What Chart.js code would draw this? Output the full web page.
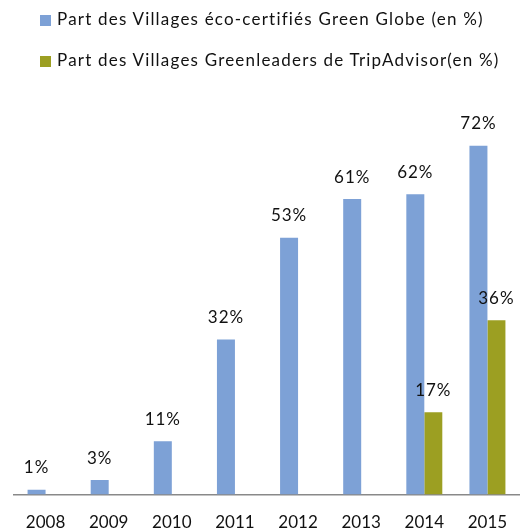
<!DOCTYPE html>
<html>
<head>
<meta charset="utf-8">
<script src="https://cdn.jsdelivr.net/npm/chart.js@4"></script>
<style>
  body { margin: 0; background: #fff; }
  #wrap { position: relative; width: 523px; height: 528px; }
  .leg { position: absolute; left: 40px; font: 17px Lato, sans-serif; letter-spacing: 1.2px; color: #111; white-space: nowrap; line-height: 20px; }
  .leg span { display: inline-block; width: 11px; height: 11px; margin-right: 6px; vertical-align: -1px; }
</style>
</head>
<body>
<div id="wrap">
  <canvas id="chart" width="523" height="528"></canvas>
  <div class="leg" style="top:9px"><span style="background:#7da1d6"></span>Part des Villages éco-certifiés Green Globe (en %)</div>
  <div class="leg" style="top:50px"><span style="background:#9c9f22"></span>Part des Villages Greenleaders de TripAdvisor(en %)</div>
</div>
<script>
const years = ["2008", "2009", "2010", "2011", "2012", "2013", "2014", "2015"];
const greenGlobe = [1, 3, 11, 32, 53, 61, 62, 72];
const tripAdvisor = [null, null, null, null, null, null, 17, 36];

const barLabels = {
    id: "barLabels",
    afterDatasetsDraw(chart) {
        const ctx = chart.ctx;
        ctx.save();
        ctx.font = "17px Lato, sans-serif";
        ctx.letterSpacing = "1px";
        ctx.fillStyle = "#111";
        ctx.textAlign = "center";
        ctx.textBaseline = "middle";
        chart.data.datasets.forEach((ds, i) => {
            chart.getDatasetMeta(i).data.forEach((bar, j) => {
                if (ds.data[j] == null) return;
                ctx.fillText(ds.data[j] + "%", bar.x, bar.y - 22);
            });
        });
        ctx.restore();
    }
};

new Chart(document.getElementById("chart"), {
    type: "bar",
    data: {
        labels: years,
        datasets: [
            { label: "Part des Villages éco-certifiés Green Globe (en %)", data: greenGlobe, backgroundColor: "#7da1d6" },
            { label: "Part des Villages Greenleaders de TripAdvisor(en %)", data: tripAdvisor, backgroundColor: "#9c9f22" }
        ]
    },
    options: {
        responsive: false,
        animation: false,
        layout: { padding: { left: 14, right: 4, top: 107, bottom: -15 } },
        datasets: { bar: { barPercentage: 1, categoryPercentage: 0.57 } },
        plugins: { legend: { display: false }, tooltip: { enabled: false } },
        scales: {
            y: { display: false, min: 0, max: 80 },
            x: {
                grid: { display: false },
                border: { display: true, color: "#898989", width: 1.5 },
                ticks: { color: "#111", font: { family: "Lato", size: 17 }, padding: 10 }
            }
        }
    },
    plugins: [barLabels]
});
</script>
</body>
</html>
